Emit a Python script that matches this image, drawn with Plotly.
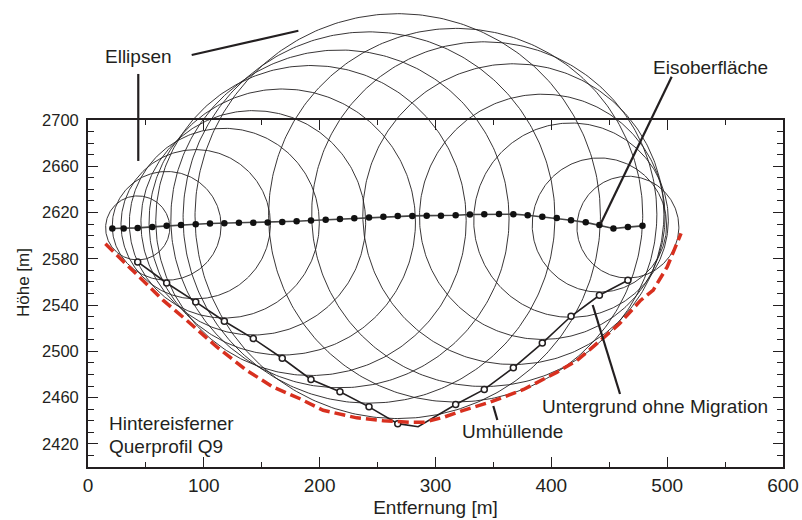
import numpy as np
import plotly.graph_objects as go

# ---------------- data ----------------
surface_x = [21.0, 30.8, 42.9, 55.5, 67.9, 80.3, 93.0, 105.3, 117.7, 130.3,
             142.7, 155.1, 167.7, 180.1, 192.5, 205.2, 217.5, 229.9, 242.6, 255.0,
             267.4, 280.0, 292.4, 304.7, 317.4, 329.7, 342.1, 354.8, 367.2, 379.6,
             392.2, 404.7, 417.0, 429.7, 441.5, 453.6, 466.1, 478.7]
surface_y = [2606.2, 2606.2, 2606.7, 2607.6, 2608.5, 2609.3, 2609.9, 2610.5, 2610.8, 2611.1,
             2611.1, 2611.4, 2611.8, 2612.5, 2613.1, 2613.7, 2614.5, 2615.1, 2615.7, 2616.3,
             2616.9, 2617.1, 2617.3, 2617.3, 2617.7, 2618.3, 2618.6, 2618.8, 2618.6, 2617.7,
             2616.3, 2615.2, 2613.4, 2611.5, 2609.2, 2606.2, 2607.4, 2608.5]

# bed without migration (open circles), one ellipse per point
bed_x = [42.9, 67.9, 93.0, 117.7, 142.7, 167.7, 192.5, 217.5, 242.6, 267.4,
         317.4, 342.1, 367.2, 392.2, 417.0, 441.5, 466.1]
bed_y = [2577.3, 2559.1, 2542.7, 2526.0, 2511.0, 2494.0, 2475.7, 2465.0, 2452.0, 2437.5,
         2454.0, 2467.1, 2485.8, 2507.1, 2530.3, 2548.5, 2561.4]
# unmarked vertex of the bed line between the two deepest points
bed_dip_x = [285.0]
bed_dip_y = [2434.8]

# ellipse radii (m)
ellipse_r = [27.7, 47.0, 64.5, 82.0, 97.0, 115.0, 134.0, 146.0, 160.5, 175.0,
             161.5, 149.0, 130.0, 106.0, 84.0, 58.0, 44.0]

# envelope ("Umhüllende")
env_x = [15, 65, 85, 111, 137, 160, 183, 203, 232, 255, 278, 290, 307, 324, 347,
         376, 405, 422, 442, 459, 477, 488, 500, 512]
env_y = [2593, 2544, 2527, 2504, 2483.5, 2469, 2459, 2449, 2442.5, 2440, 2438.7, 2438.7,
         2443, 2449, 2456, 2467, 2482, 2492, 2509, 2524, 2544, 2553, 2573, 2602]

x_ticks = [0, 100, 200, 300, 400, 500, 600]
y_ticks = [2420, 2460, 2500, 2540, 2580, 2620, 2660, 2700]

# ---------------- layout geometry ----------------
W, H = 802, 520
ML, MR, MT, MB = 88, 19, 0, 53
plot_h = H - MT - MB           # 467
frame_top_px = 120              # top of the framed axes (from top of figure)
y_lo, y_hi = 2400, 2700
x_lo, x_hi = 0, 600
y_dom_top = (plot_h - frame_top_px) / plot_h
py_per_m = (plot_h - frame_top_px) / (y_hi - y_lo)
y2_hi = y_lo + plot_h / py_per_m

INK = '#231f20'
FONT = 'Liberation Sans, Arial, sans-serif'

fig = go.Figure()

# empty trace so that the framed subplot (x, y) exists
fig.add_trace(go.Scatter(x=[None], y=[None], mode='lines', yaxis='y',
                         showlegend=False, hoverinfo='skip'))

# ellipses
ex, ey = [], []
centers_y = np.interp(bed_x, surface_x, surface_y)
t = np.linspace(0, 2 * np.pi, 361)
for cx, cy, r in zip(bed_x, centers_y, ellipse_r):
    ex += list(cx + r * np.cos(t)) + [None]
    ey += list(cy + r * np.sin(t)) + [None]
fig.add_trace(go.Scatter(x=ex, y=ey, mode='lines', yaxis='y2',
                         line=dict(color=INK, width=0.9), hoverinfo='skip',
                         showlegend=False))

# ice surface
fig.add_trace(go.Scatter(x=surface_x, y=surface_y, mode='lines+markers', yaxis='y2',
                         line=dict(color='#444444', width=1.6),
                         marker=dict(color='#111111', size=6.5),
                         showlegend=False))

# bed without migration
line_pts = sorted(zip(bed_x + bed_dip_x, bed_y + bed_dip_y))
fig.add_trace(go.Scatter(x=[p[0] for p in line_pts], y=[p[1] for p in line_pts],
                         mode='lines', yaxis='y2',
                         line=dict(color=INK, width=1.6), showlegend=False))
fig.add_trace(go.Scatter(x=bed_x, y=bed_y, mode='markers', yaxis='y2',
                         marker=dict(color='white', size=6,
                                     line=dict(color=INK, width=1.5)),
                         showlegend=False))

# envelope
fig.add_trace(go.Scatter(x=env_x, y=env_y, mode='lines', yaxis='y2',
                         line=dict(color='#d8301f', width=3.5, dash='11px,5px'),
                         showlegend=False))

# ---------------- annotations ----------------
def ann(text, x, y, xanchor='center'):
    fig.add_annotation(text=text, x=x, y=y, xref='x', yref='y2', showarrow=False,
                       xanchor=xanchor, yanchor='middle',
                       font=dict(family=FONT, size=19, color=INK))

def pointer(x0, y0, x1, y1):
    fig.add_shape(type='line', x0=x0, y0=y0, x1=x1, y1=y1, xref='x', yref='y2',
                  line=dict(color=INK, width=2.2))

ann('Ellipsen', 43.2, 2754.5)
pointer(89.5, 2756.2, 181.6, 2777.2)
pointer(43.4, 2739.8, 43.4, 2664.6)

ann('Eisoberfläche', 537.4, 2745.8)
pointer(503.9, 2737.4, 442.5, 2610.1)

ann('Untergrund ohne Migration', 489.2, 2451.9)
pointer(459.3, 2463.1, 435.7, 2540.1)

ann('Umhüllende', 366.5, 2430.3)
pointer(349.9, 2452.7, 353.4, 2440.6)

ann('Hintereisferner', 16.4, 2437.8, 'left')
ann('Querprofil Q9', 16.4, 2417.6, 'left')

# y axis title (placed as rotated text, slightly above the axis centre as in the reference)
fig.add_annotation(text='Höhe [m]', textangle=-90, showarrow=False,
                   xref='paper', yref='paper',
                   x=(23 - ML) / (W - ML - MR), y=(plot_h - 283) / plot_h,
                   xanchor='center', yanchor='middle',
                   font=dict(family=FONT, size=17, color=INK))

# ---------------- axes ----------------
fig.update_layout(
    width=W, height=H,
    margin=dict(l=ML, r=MR, t=MT, b=MB, pad=0),
    paper_bgcolor='white', plot_bgcolor='rgba(0,0,0,0)',
    font=dict(family=FONT, color=INK),
    showlegend=False,
    xaxis=dict(range=[x_lo, x_hi], anchor='y', domain=[0, 1],
               tickmode='array', tickvals=x_ticks, ticktext=[str(v) for v in x_ticks],
               ticks='inside', ticklen=10, tickwidth=1.3, tickcolor=INK,
               minor=dict(dtick=50, tick0=0, ticks='inside', ticklen=5,
                          tickwidth=1.3, tickcolor=INK),
               showline=True, linecolor=INK, linewidth=1.8, mirror='ticks',
               showgrid=False, zeroline=False, automargin=False,
               tickfont=dict(size=19, color=INK, family=FONT),
               title=dict(text='Entfernung [m]', standoff=6,
                          font=dict(size=19, color=INK, family=FONT))),
    yaxis=dict(range=[y_lo, y_hi], domain=[0, y_dom_top], anchor='x',
               tickmode='array', tickvals=y_ticks, ticktext=[str(v) for v in y_ticks],
               ticks='inside', ticklen=10, tickwidth=1.3, tickcolor=INK,
               minor=dict(dtick=10, tick0=2400, ticks='inside', ticklen=6,
                          tickwidth=1.3, tickcolor=INK),
               showline=True, linecolor=INK, linewidth=1.8, mirror='ticks',
               showgrid=False, zeroline=False, automargin=False,
               ticklabelstandoff=4,
               tickfont=dict(size=16.5, color=INK, family=FONT)),
    yaxis2=dict(range=[y_lo, y2_hi], domain=[0, 1], anchor='x', visible=False,
                showgrid=False, zeroline=False),
)

fig.write_html('out.html', config={'displayModeBar': False},
               post_script="document.body.style.margin='0';document.body.style.padding='0';")
